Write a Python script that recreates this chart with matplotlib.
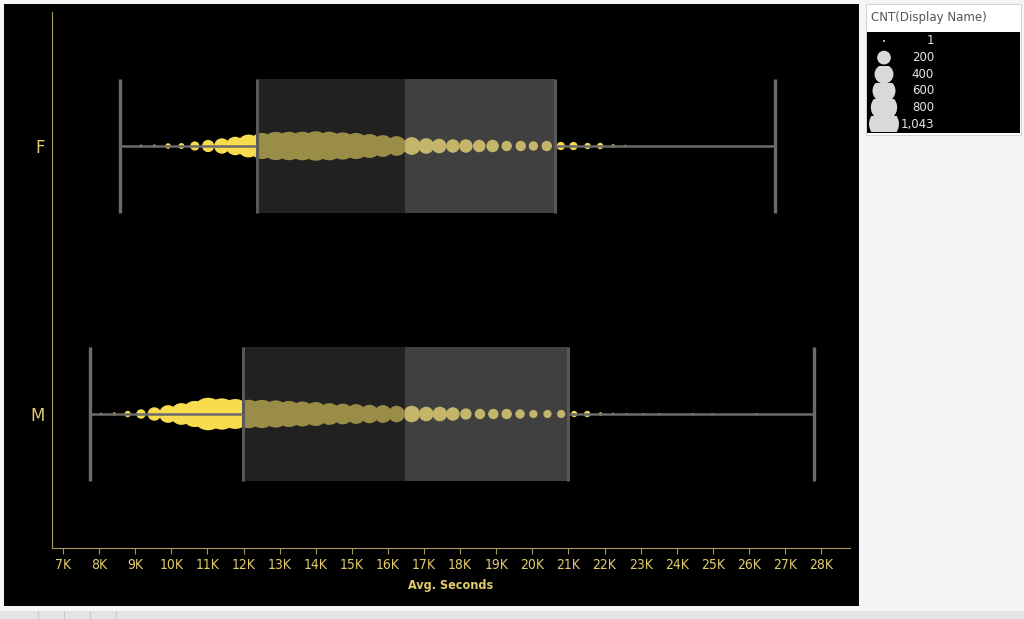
"""Box plot of Avg. Seconds by gender, with count-sized dots per bin."""

import matplotlib

matplotlib.use("Agg")
import matplotlib.pyplot as plt  # noqa: E402
import numpy as np  # noqa: E402
from matplotlib.patches import Circle, Rectangle  # noqa: E402
from matplotlib.ticker import FuncFormatter  # noqa: E402

W, H = 1024, 619

# Avg. Seconds in thousands, one dot per bin, with its CNT(Display Name)
F_X = [9.16, 9.53, 9.91, 10.28, 10.65, 11.02, 11.40, 11.77, 12.14, 12.51,
       12.89, 13.26, 13.63, 14.00, 14.38, 14.75, 15.12, 15.49, 15.86, 16.24,
       16.66, 17.06, 17.42, 17.80, 18.16, 18.53, 18.90, 19.29, 19.68, 20.03,
       20.40, 20.79, 21.14, 21.53, 21.88, 22.24, 22.58]
F_CNT = [3, 4, 20, 24, 68, 130, 215, 320, 500, 660,
         780, 790, 800, 850, 800, 720, 660, 550, 450, 365,
         290, 220, 190, 160, 160, 135, 135, 90, 90, 72,
         90, 52, 52, 28, 28, 6, 2]
M_X = [8.05, 8.42, 8.79, 9.16, 9.53, 9.91, 10.28, 10.65, 11.02, 11.40,
       11.77, 12.14, 12.51, 12.89, 13.26, 13.63, 14.00, 14.38, 14.75, 15.12,
       15.49, 15.86, 16.24, 16.66, 17.06, 17.44, 17.80, 18.16, 18.55, 18.92,
       19.29, 19.66, 20.03, 20.42, 20.80, 21.16, 21.52, 21.89, 22.24, 22.61,
       23.07, 23.51, 24.45, 24.98, 26.22]
M_CNT = [2, 5, 28, 72, 160, 290, 450, 660, 1043, 960,
         880, 790, 780, 720, 660, 600, 550, 450, 405, 365,
         320, 290, 250, 250, 190, 190, 160, 110, 90, 90,
         90, 72, 52, 52, 52, 28, 28, 6, 2, 1,
         1, 1, 1, 1, 1]

GROUPS = ["F", "M"]
# whisker low, q1, median, q3, whisker high (thousands of seconds)
F_BOX = [8.58, 12.37, 16.47, 20.63, 26.72]
M_BOX = [7.75, 11.99, 16.47, 21.00, 27.80]
X_TICKS = list(range(7, 29))

LEGEND_CNT = [1, 200, 400, 600, 800, 1043]
LEGEND_LABELS = ["1", "200", "400", "600", "800", "1,043"]

YELLOW = "#f7dc4f"
AXIS = "#a89a5c"
TEXT = "#e3cc6b"
WHISK = "#6b6b6b"
EDGE = "#585858"


def dot_px(n):
    """Dot diameter in pixels for a count (area grows with count)."""
    return 1.2 + 0.97 * np.sqrt(np.asarray(n, dtype=float))


def fig_rect(x0, y0, x1, y1):
    """Pixel box (top-left origin) -> figure fraction [l, b, w, h]."""
    return [x0 / W, 1 - y1 / H, (x1 - x0) / W, (y1 - y0) / H]


def backdrop(fig, x0, y0, x1, y1, **kw):
    """Figure-level rectangle drawn underneath every axes."""
    l, b, w, h = fig_rect(x0, y0, x1, y1)
    fig.add_artist(Rectangle((l, b), w, h, transform=fig.transFigure,
                             zorder=-5, **kw))


def draw_group(ax, y, xs, cnt, box):
    lo, q1, med, q3, hi = box
    size = (dot_px(cnt) * 0.72) ** 2
    ax.scatter(xs, [y] * len(xs), s=size, color=YELLOW, linewidths=0, zorder=2)
    # translucent box halves dim the dots underneath
    ax.add_patch(Rectangle((q1, y - 0.25), med - q1, 0.5, facecolor="#414141",
                           alpha=0.51, lw=0, zorder=3))
    ax.add_patch(Rectangle((med, y - 0.25), q3 - med, 0.5, facecolor="#8a8a8a",
                           alpha=0.465, lw=0, zorder=3))
    ax.vlines([q1, q3], y - 0.25, y + 0.25, color=EDGE, lw=2.2, zorder=4)
    ax.hlines([y, y], [lo, q3], [q1, hi], color=WHISK, lw=1.8, zorder=4)
    ax.vlines([lo, hi], y - 0.25, y + 0.25, color=WHISK, lw=2.4, zorder=4)


def draw_legend(fig):
    backdrop(fig, 866, 4, 1021, 135, facecolor="white", edgecolor="#d4d4d4",
             lw=0.8)
    fig.text(871 / W, 1 - 18 / H, "CNT(Display Name)", color="#555555",
             fontsize=8.5, va="center", ha="left")
    lax = fig.add_axes(fig_rect(867, 32, 1020, 133))
    lax.set_facecolor("black")
    lax.set_xlim(0, 153)
    lax.set_ylim(101, 0)
    lax.set_xticks([])
    lax.set_yticks([])
    for sp in lax.spines.values():
        sp.set_visible(False)
    row = 16.6
    for i, (n, lab) in enumerate(zip(LEGEND_CNT, LEGEND_LABELS)):
        cy = 9 + i * row
        c = Circle((17, cy), dot_px(n) / 2 * 0.92, facecolor="#d9d9d9", lw=0)
        lax.add_patch(c)
        clip = Rectangle((0, cy - row / 2), 60, row, transform=lax.transData)
        c.set_clip_path(clip)
        lax.text(67, cy, lab, color="#e6e6e6", fontsize=8.5, ha="right",
                 va="center")


def main():
    fig = plt.figure(figsize=(W / 100, H / 100), dpi=100)
    fig.patch.set_facecolor("#f5f5f5")

    # black worksheet panel and the bottom tab strip
    backdrop(fig, 4, 4, 859, 606, facecolor="black", lw=0)
    backdrop(fig, 0, 611, W, H, facecolor="#e4e4e4", lw=0)
    for x in (38, 64, 90, 116):
        fig.add_artist(plt.Line2D([x / W, x / W], [0, 8 / H],
                                  transform=fig.transFigure, color="#c8c8c8",
                                  lw=0.8, zorder=-4))

    ax = fig.add_axes(fig_rect(52, 12, 850, 548))
    ax.set_facecolor("none")
    for y, (xs, cnt, box) in enumerate([(F_X, F_CNT, F_BOX),
                                        (M_X, M_CNT, M_BOX)]):
        draw_group(ax, y, xs, cnt, box)

    ax.set_xlim(6.695, 28.8)
    ax.set_ylim(1.5, -0.5)
    ax.set_xticks(X_TICKS)
    ax.xaxis.set_major_formatter(FuncFormatter(lambda v, _: f"{v:.0f}K"))
    ax.set_yticks(range(len(GROUPS)))
    ax.set_yticklabels(GROUPS)
    ax.tick_params(axis="x", colors=AXIS, length=4, width=0.8, pad=3,
                   labelcolor=TEXT, labelsize=10)
    ax.tick_params(axis="y", length=0, pad=5, labelcolor=TEXT, labelsize=12)
    for lab in ax.get_xticklabels():
        lab.set_fontstretch("condensed")
    for sp in ("top", "right"):
        ax.spines[sp].set_visible(False)
    for sp in ("left", "bottom"):
        ax.spines[sp].set_color(AXIS)
        ax.spines[sp].set_linewidth(0.8)
    ax.set_xlabel("Avg. Seconds", color=TEXT, fontsize=9, fontweight="bold",
                  fontstretch="condensed", labelpad=5)

    draw_legend(fig)
    fig.savefig("out.png", dpi=100)
    plt.close(fig)


if __name__ == "__main__":
    main()
